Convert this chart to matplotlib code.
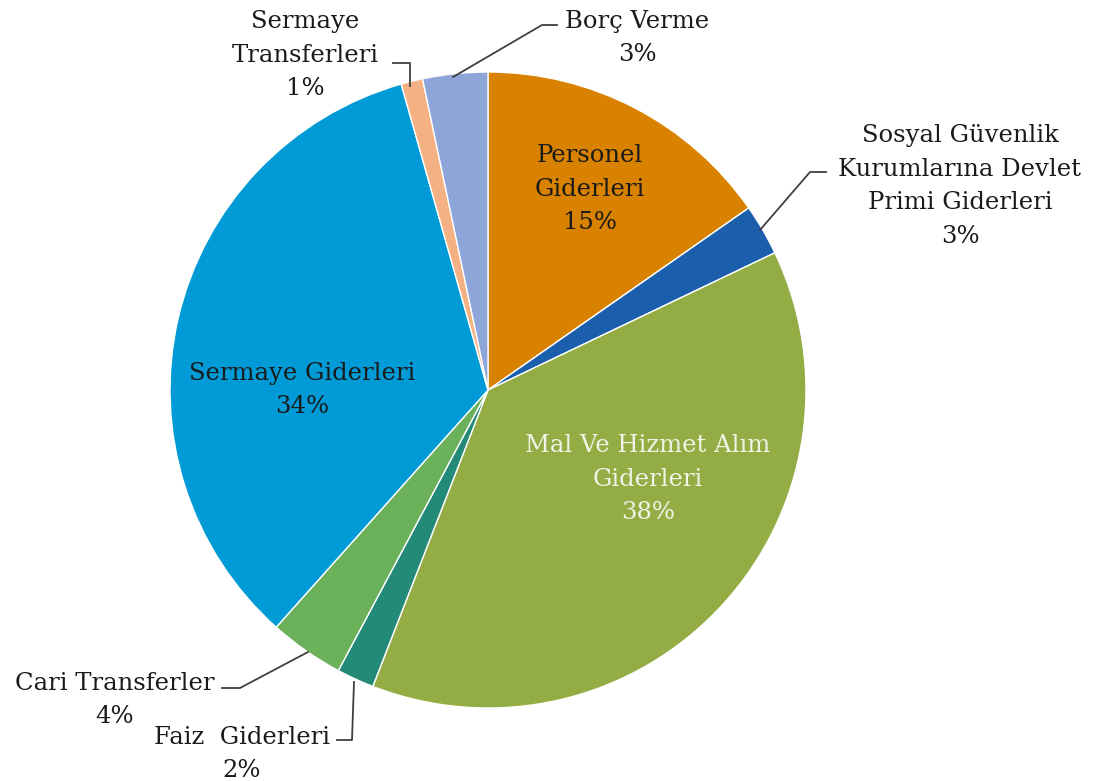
import matplotlib.pyplot as plt

labels = ["Personel\nGiderleri", "Sosyal Güvenlik\nKurumlarına Devlet\nPrimi Giderleri",
          "Mal Ve Hizmet Alım\nGiderleri", "Faiz  Giderleri", "Cari Transferler",
          "Sermaye Giderleri", "Sermaye\nTransferleri", "Borç Verme"]
values = [15.3, 2.6, 38.0, 1.9, 3.8, 34.0, 1.1, 3.3]
colors = ["#D98200", "#1B5EAB", "#93AD44", "#238A78", "#6AB159", "#009BD6", "#F4B183", "#8EA5D9"]

plt.rcParams['font.family'] = ['DejaVu Serif']

fig = plt.figure(figsize=(10.93, 7.81), dpi=100)
ax = fig.add_axes([0, 0, 1, 1])

H = 781
ax.pie(values, colors=colors, startangle=90, counterclock=False,
       center=(488, H - 390), radius=318,
       wedgeprops=dict(edgecolor='white', linewidth=1))
ax.set_xlim(0, 1093)
ax.set_ylim(0, 781)
ax.set_aspect('equal')
ax.axis('off')

# label text positions (pixel coords from top) and leader lines
pos = [(590, 189), (960, 186), (648, 479), (242, 754), (115, 700),
       (302, 390), (305, 55), (637, 38)]
txt_color = ["#1a1a1a"] * 8
txt_color[2] = "#F2F2E6"
leaders = {
    1: [(826, 172), (810, 172), (760, 230)],
    3: [(337, 740), (352, 740), (354, 682)],
    4: [(222, 688), (240, 688), (308, 652)],
    6: [(393, 63), (410, 63), (410, 86)],
    7: [(557, 25), (542, 25), (453, 77)],
}

for i, (lab, v) in enumerate(zip(labels, values)):
    x, y = pos[i]
    ax.text(x, H - y, f"{lab}\n{v:.0f}%", ha='center', va='center',
            fontsize=17.5, color=txt_color[i], linespacing=1.6)

for pts in leaders.values():
    xs = [p[0] for p in pts]
    ys = [H - p[1] for p in pts]
    ax.plot(xs, ys, color="#404040", lw=1.3)

fig.savefig("out.png", dpi=100)
